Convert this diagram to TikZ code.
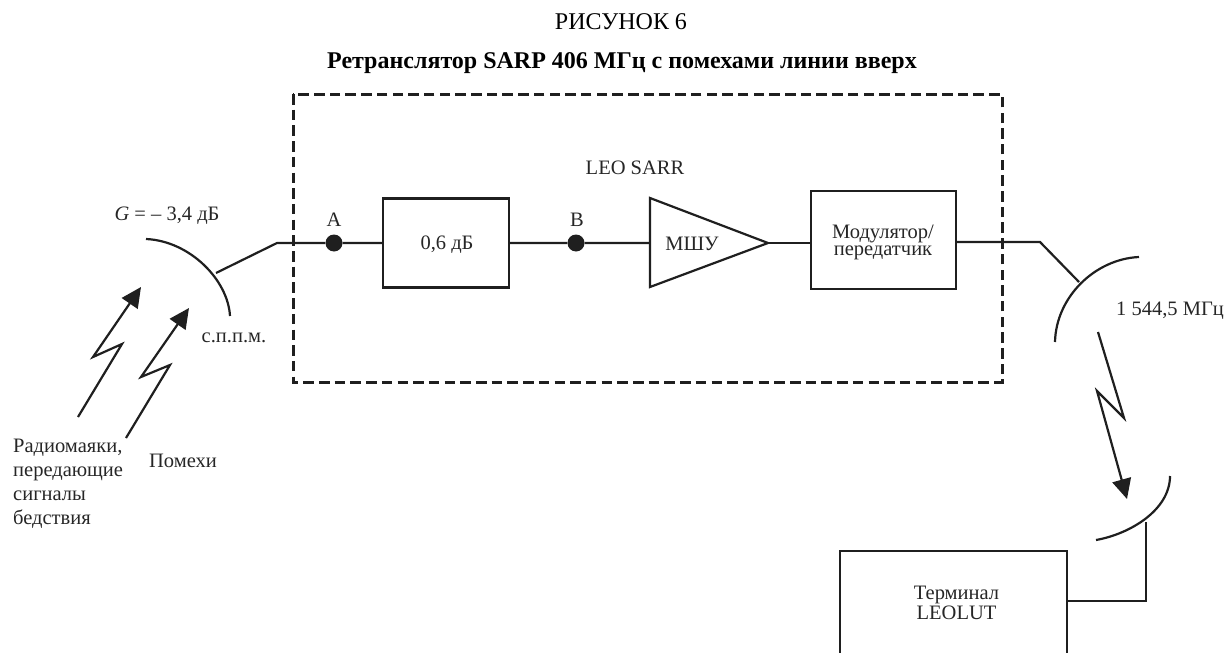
\documentclass[tikz,border=0pt]{standalone}
\usepackage{fontspec}
\setmainfont{Liberation Serif}
\usetikzlibrary{arrows.meta}
\tikzset{
 wire/.style={line width=2.2pt,draw=black!88,line join=miter},
 block/.style={draw=black!88,line width=2.2pt,inner sep=0pt},
 lbl/.style={inner sep=0pt,font=\fontsize{20.5pt}{24pt}\selectfont,text=black!85},
 dish/.style={line width=2.2pt,draw=black!88},
 bolt/.style={line width=2.2pt,draw=black!88,-{Triangle[length=20pt,width=19pt]},line join=miter},
 dotn/.style={circle,fill=black!88,inner sep=0pt,minimum size=17pt},
 frame/.style={draw=black!88,line width=3pt,dash pattern=on 10.5pt off 5.2pt},
}
\begin{document}
\begin{tikzpicture}[x=1pt,y=-1pt]
\useasboundingbox (0,0) rectangle (1227,653);
\clip (0,0) rectangle (1227,653);
\node[lbl,font=\fontsize{24pt}{24pt}\selectfont,text=black] (title) at (621,22) {РИСУНОК 6};
\node[lbl,font=\bfseries\fontsize{24pt}{24pt}\selectfont,text=black] (sub) at (622,63) {Ретранслятор SARP 406 МГц с помехами линии вверх};
\draw[frame] (293,94) rectangle (1002,382);
\node[lbl] (leo) at (635,168) {LEO SARR};
\node[lbl] (gain) at (167,216) {\textit{G} = -- 3,4 дБ};
\node[lbl] (sppm) at (234,338) {с.п.п.м.};
\node[lbl] (la) at (334,220) {A};
\node[lbl] (lb) at (577,220) {B};
\node[block,minimum width=126pt,minimum height=89pt] (att) at (446,243) {};
\node[lbl] (attt) at (447,245) {0,6 дБ};
\node[block,minimum width=145pt,minimum height=98pt] (mod) at (883.5,240) {};
\node[lbl,font=\fontsize{20.5pt}{17.3pt}\selectfont,align=center] (modt) at (883,242.5) {Модулятор/\\передатчик};
\node[block,minimum width=227pt,minimum height=140pt] (term) at (953.5,621) {};
\node[lbl,font=\fontsize{20.5pt}{20pt}\selectfont,align=center] (termt) at (956.5,603) {Терминал\\LEOLUT};
\node[dotn] (a) at (334,243) {};
\node[dotn] (b) at (576,243) {};
\draw[wire,fill=white] (650,198) -- (650,287) -- (768,243) -- cycle;
\node[lbl] (lna) at (692,244) {МШУ};
\coordinate (ant1) at (216,273);
\coordinate (k1) at (277,243);
\coordinate (w1) at (650,243);
\draw[wire] (ant1) -- (k1) -- (a) -- (att) -- (b) -- (w1);
\draw[wire] (768,243) -- (811,243);
\coordinate (k2) at (1040,242);
\coordinate (ant2) at (1079,282);
\coordinate (m2) at (956,242);
\draw[wire] (m2) -- (k2) -- (ant2);
\draw[dish] (146,239) .. controls (190,241) and (228,280) .. (230,316);
\draw[dish] (1139,257) .. controls (1095,259) and (1056,297) .. (1055,342);
\draw[dish] (1170,476) .. controls (1170,510) and (1130,534) .. (1096,540);
\coordinate (ant3) at (1146,522);
\coordinate (t3) at (1067,601);
\draw[wire] (ant3) -- (1146,601) -- (t3);
\draw[bolt] (78,417) -- (122,344) -- (93,357) -- (141,287);
\draw[bolt] (126,438) -- (170,365) -- (141,377) -- (189,308);
\draw[bolt] (1098,332) -- (1124,418) -- (1097,391) -- (1127,499);
\node[lbl,align=left,anchor=west] (src) at (13,483.5) {Радиомаяки,\\передающие\\сигналы\\бедствия};
\node[lbl] (intf) at (183,461) {Помехи};
\node[lbl] (freq) at (1170,311) {1 544,5 МГц};
\end{tikzpicture}
\end{document}
